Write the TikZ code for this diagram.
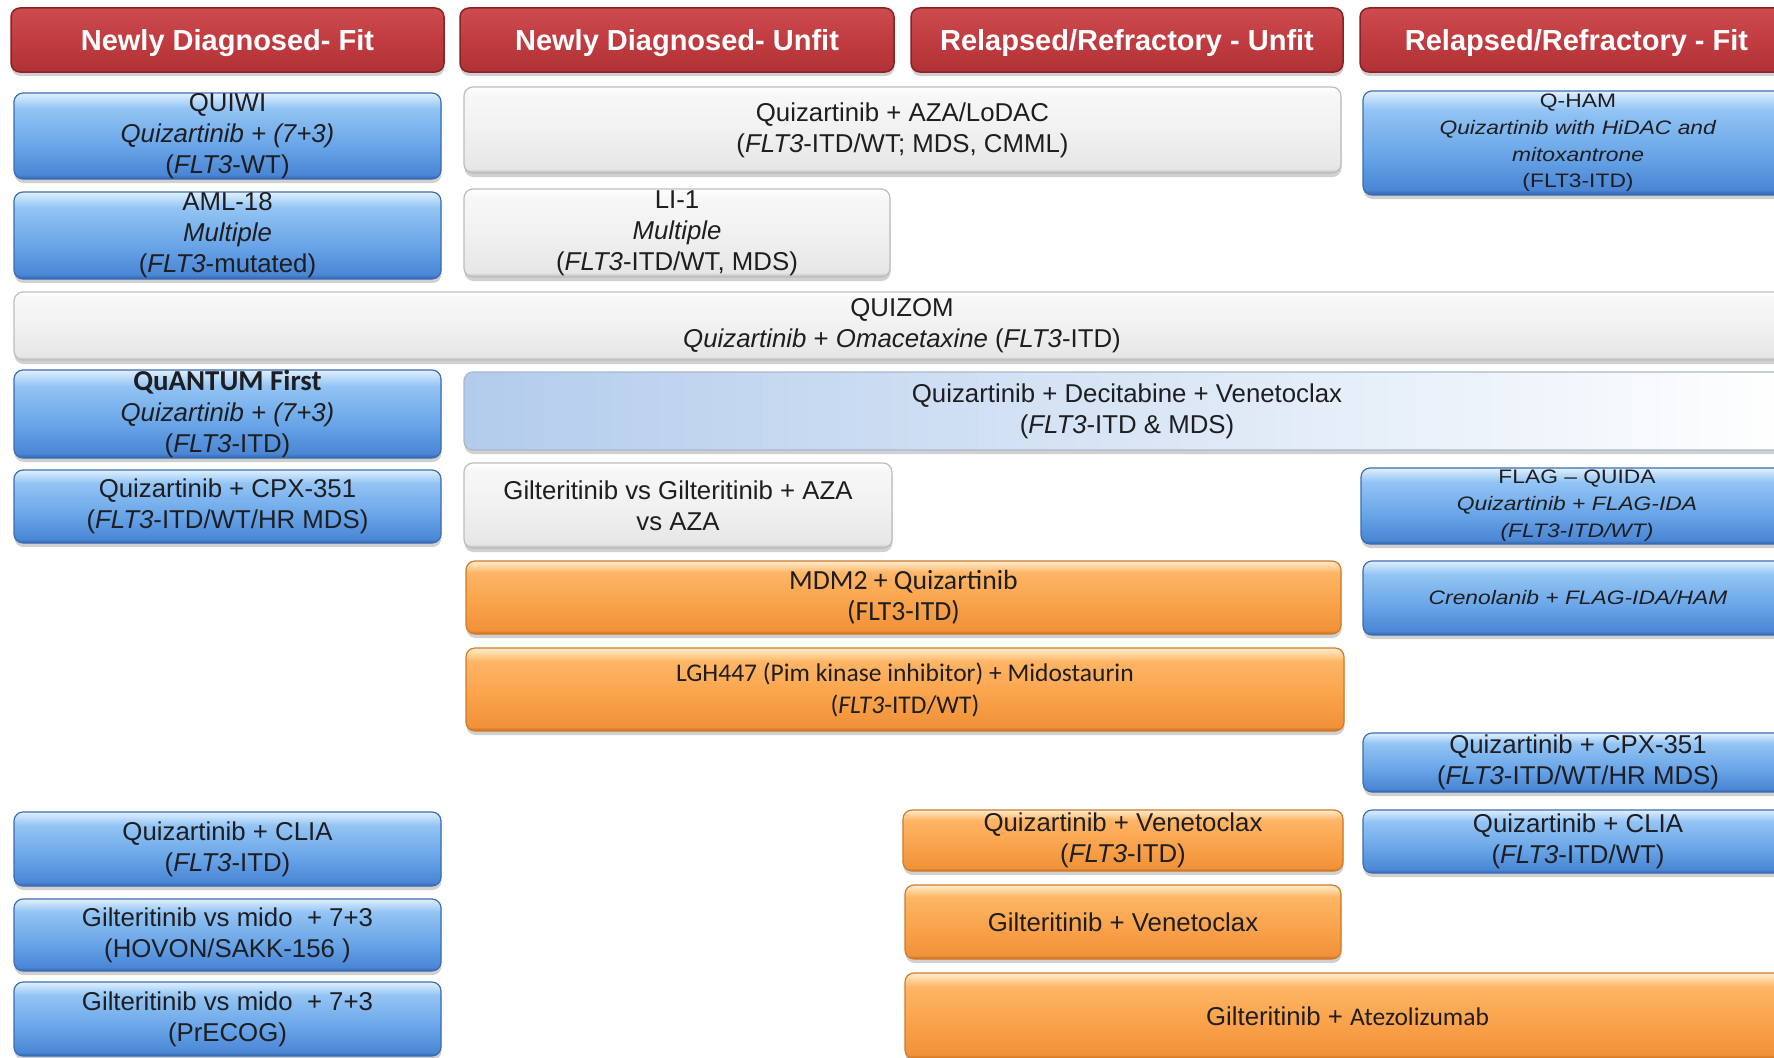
\documentclass[tikz,border=0pt]{standalone}
\usepackage{fontspec}
\setmainfont{Liberation Sans}
\newfontfamily\carlito{Carlito}
\newfontfamily\widefont[FakeStretch=1.17,Ligatures=TeX]{Liberation Sans}
\usetikzlibrary{shadows}

\definecolor{txt}{HTML}{1E1E22}
% blue
\definecolor{bD}{HTML}{2F63AE}
\definecolor{bL1}{HTML}{4A86D4}
\definecolor{bM}{HTML}{6AA6E8}
\definecolor{bU}{HTML}{93C4F4}
\definecolor{bT}{HTML}{C5E1FB}
\definecolor{bTT}{HTML}{E2F0FD}
\definecolor{bEdge}{HTML}{3D6DB2}
% orange
\definecolor{oD}{HTML}{C86A18}
\definecolor{oL1}{HTML}{F0923A}
\definecolor{oM}{HTML}{FBA64F}
\definecolor{oU}{HTML}{FDB566}
\definecolor{oT}{HTML}{FFD9A6}
\definecolor{oTT}{HTML}{FFEBCC}
\definecolor{oEdge}{HTML}{D07B2A}
% white
\definecolor{wD}{HTML}{B8B8B8}
\definecolor{wL1}{HTML}{E6E6E6}
\definecolor{wM}{HTML}{F1F1F1}
\definecolor{wU}{HTML}{F7F7F7}
\definecolor{wT}{HTML}{FFFFFF}
\definecolor{wEdge}{HTML}{BDBDBD}
% red
\definecolor{rB}{HTML}{B03236}
\definecolor{rM}{HTML}{C13C40}
\definecolor{rT}{HTML}{CC4C50}
\definecolor{rEdge}{HTML}{8A2225}
% gradient box
\definecolor{gL}{HTML}{B3CCEC}
\definecolor{gEdge}{HTML}{A9B8CC}

\pgfdeclareverticalshading{blueshade}{100bp}{color(0bp)=(bD); color(25bp)=(bD); color(27.5bp)=(bL1); color(45bp)=(bM); color(66bp)=(bU); color(72bp)=(bT); color(75bp)=(bTT); color(100bp)=(bTT)}
\pgfdeclareverticalshading{orangeshade}{100bp}{color(0bp)=(oD); color(25bp)=(oD); color(27.5bp)=(oL1); color(50bp)=(oM); color(67bp)=(oU); color(72bp)=(oT); color(75bp)=(oTT); color(100bp)=(oTT)}
\pgfdeclareverticalshading{whiteshade}{100bp}{color(0bp)=(wD); color(25bp)=(wD); color(27.5bp)=(wL1); color(50bp)=(wM); color(70bp)=(wU); color(75bp)=(wT); color(100bp)=(wT)}
\pgfdeclareverticalshading{redshade}{100bp}{color(0bp)=(rB); color(25bp)=(rB); color(50bp)=(rM); color(75bp)=(rT); color(100bp)=(rT)}

\newcommand\bodyf{\fontsize{25.8}{31}\selectfont}
\newcommand\hdrf{\fontsize{29}{34}\selectfont\bfseries}
\newcommand\smallw{\widefont\fontsize{19.5}{26.8}\selectfont}
\newcommand\calb{\carlito\fontsize{27.7}{31}\selectfont}
\newcommand\calsm{\carlito\fontsize{25.5}{32}\selectfont}

\begin{document}
\begin{tikzpicture}[x=1pt,y=-1pt,
  base/.style={rounded corners=9pt, inner sep=0pt, align=center, text=txt,
    line width=1.2pt, font=\bodyf,
    drop shadow={shadow xshift=0.5pt, shadow yshift=-4pt, opacity=0.28, fill=black!65}},
  bluebox/.style={base, shading=blueshade, draw=bEdge},
  whitebox/.style={base, shading=whiteshade, draw=wEdge},
  orangebox/.style={base, shading=orangeshade, draw=oEdge},
  fadebox/.style={base, left color=gL, right color=white, draw=gEdge},
  hdr/.style={base, shading=redshade, draw=rEdge, text=white, font=\hdrf,
    line width=1.5pt, text height=28pt, text depth=6pt}
]
\useasboundingbox (0,0) rectangle (1774,1057);
\fill[white] (0,0) rectangle (1774,1057);
\clip (0,0) rectangle (1774,1057);

% headers
\node[hdr, minimum width=433pt, minimum height=64pt] (h1) at (227.5,40) {Newly Diagnosed- Fit};
\node[hdr, minimum width=434pt, minimum height=64pt] (h2) at (677,40) {Newly Diagnosed- Unfit};
\node[hdr, minimum width=432pt, minimum height=64pt] (h3) at (1127,40) {Relapsed/Refractory - Unfit};
\node[hdr, minimum width=433pt, minimum height=64pt] (h4) at (1576.5,40) {Relapsed/Refractory - Fit};

% column 1
\node[bluebox, minimum width=427pt, minimum height=86pt] (quiwi) at (227.5,136)
  {QUIWI\\\textit{Quizartinib + (7+3)}\\(\textit{FLT3}-WT)};
\node[bluebox, minimum width=427pt, minimum height=87pt] (aml) at (227.5,235.5)
  {AML-18\\\textit{Multiple}\\(\textit{FLT3}-mutated)};
\node[whitebox, minimum width=1776pt, minimum height=68pt] (quizom) at (902,326)
  {QUIZOM\\\textit{Quizartinib} + \textit{Omacetaxine} (\textit{FLT3}-ITD)};
\node[bluebox, minimum width=427pt, minimum height=88pt] (quantum) at (227.5,414)
  {{\carlito\fontsize{28.9}{31}\selectfont\bfseries QuANTUM First}\\\textit{Quizartinib + (7+3)}\\(\textit{FLT3}-ITD)};
\node[bluebox, minimum width=427pt, minimum height=73pt] (cpxa) at (227.5,506.5)
  {Quizartinib + CPX-351\\(\textit{FLT3}-ITD/WT/HR MDS)};
\node[bluebox, minimum width=427pt, minimum height=74pt] (cliaa) at (227.5,849)
  {Quizartinib + CLIA\\(\textit{FLT3}-ITD)};
\node[bluebox, minimum width=427pt, minimum height=72pt] (hovon) at (227.5,935)
  {Gilteritinib vs mido~~+ 7+3\\(HOVON/SAKK-156 )};
\node[bluebox, minimum width=427pt, minimum height=74pt] (precog) at (227.5,1019)
  {Gilteritinib vs mido~~+ 7+3\\(PrECOG)};

% column 2
\node[whitebox, minimum width=877pt, minimum height=86pt] (aza) at (902.5,130)
  {Quizartinib + AZA/LoDAC\\(\textit{FLT3}-ITD/WT; MDS, CMML)};
\node[whitebox, minimum width=426pt, minimum height=88pt] (li) at (677,233)
  {LI-1\\\textit{Multiple}\\(\textit{FLT3}-ITD/WT, MDS)};
\node[fadebox, minimum width=1326pt, minimum height=78pt] (decven) at (1127,411)
  {Quizartinib + Decitabine + Venetoclax\\(\textit{FLT3}-ITD \& MDS)};
\node[whitebox, minimum width=428pt, minimum height=85pt] (giltaza) at (678,505.5)
  {Gilteritinib vs Gilteritinib + AZA\\vs AZA};
\node[orangebox, minimum width=875pt, minimum height=73pt, font=\calb] (mdm) at (903.5,597.5)
  {MDM2 + Quizartinib\\(FLT3-ITD)};
\node[orangebox, minimum width=878pt, minimum height=83pt, font=\calsm] (lgh) at (905,689.5)
  {LGH447 (Pim kinase inhibitor) + Midostaurin\\(\textit{FLT3}-ITD/WT)};

% column 3
\node[orangebox, minimum width=440pt, minimum height=61pt] (qven) at (1123,840.5)
  {Quizartinib + Venetoclax\\(\textit{FLT3}-ITD)};
\node[orangebox, minimum width=436pt, minimum height=74pt] (gven) at (1123,922)
  {Gilteritinib + Venetoclax};
\node[orangebox, minimum width=885pt, minimum height=86pt] (gatezo) at (1347.5,1016)
  {Gilteritinib + {\calsm Atezolizumab}};

% column 4
\node[bluebox, minimum width=430pt, minimum height=104pt, font=\smallw] (qham) at (1578,143)
  {Q-HAM\\\textit{Quizartinib with HiDAC and}\\\textit{mitoxantrone}\\(FLT3-ITD)};
\node[bluebox, minimum width=432pt, minimum height=76pt, font=\smallw] (flag) at (1577,506)
  {FLAG – QUIDA\\\textit{Quizartinib + FLAG-IDA}\\\textit{(FLT3-ITD/WT)}};
\node[bluebox, minimum width=430pt, minimum height=74pt, font=\smallw] (creno) at (1578,598)
  {\textit{Crenolanib + FLAG-IDA/HAM}};
\node[bluebox, minimum width=430pt, minimum height=59pt] (cpxb) at (1578,762.5)
  {Quizartinib + CPX-351\\(\textit{FLT3}-ITD/WT/HR MDS)};
\node[bluebox, minimum width=430pt, minimum height=63pt] (cliab) at (1578,841.5)
  {Quizartinib + CLIA\\(\textit{FLT3}-ITD/WT)};
\end{tikzpicture}
\end{document}
